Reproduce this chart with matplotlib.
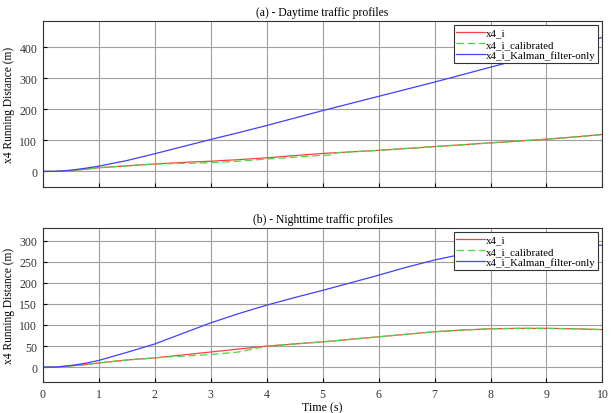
import matplotlib.pyplot as plt

plt.rcParams['font.family'] = ['Liberation Serif', 'DejaVu Serif']

t = [0, 0.25, 0.5, 0.75, 1, 1.5, 2, 2.5, 3, 3.5, 4, 4.5, 5, 5.5, 6, 6.5, 7, 7.5, 8, 8.5, 9, 9.5, 10]

# (a) daytime
day_x4 = [0, 0.5, 3, 7, 12, 18, 24, 29, 33, 38, 44, 51, 58, 63, 68, 74, 80, 86, 92, 98, 104, 111, 119]
day_cal_t = [0, 0.25, 0.5, 0.75, 1, 1.5, 2, 2.2, 2.5, 3, 3.5, 4, 4.5, 5, 5.15, 5.25, 5.5, 6, 6.5, 7, 7.5, 8, 8.5, 9, 9.5, 10]
day_cal = [0, 0.5, 3, 7, 12, 18, 24, 25, 26, 28, 33, 40, 46, 52, 53, 60, 63, 68, 74, 80, 86, 92, 98, 104, 111, 119]
day_kal = [0, 0.5, 4, 10, 17, 35, 57, 80, 103, 125, 148, 172, 196, 219, 242, 265, 288, 312, 336, 360, 384, 408, 432]

# (b) nighttime
night_x4 = [0, 0.5, 3, 6, 10, 17, 22, 29, 36, 43, 50, 55, 60, 66, 72, 78, 84, 88, 91, 92, 92, 91, 89]
night_cal_t = [0, 0.25, 0.5, 0.75, 1, 1.5, 2, 2.2, 2.5, 3, 3.5, 4, 4.5, 5, 5.5, 6, 6.5, 7, 7.5, 8, 8.5, 9, 9.5, 10]
night_cal = [0, 0.5, 3, 6, 10, 17, 22, 24, 26, 30, 36, 50, 55, 60, 66, 72, 78, 84, 88, 91, 92, 92, 91, 89]
night_kal = [0, 0.5, 4, 9, 16, 35, 55, 80, 105, 127, 147, 165, 182, 200, 218, 237, 254, 268, 278, 284, 287, 288, 289]

fig = plt.figure(figsize=(6.11, 4.14), dpi=100)
ax1 = fig.add_axes([0.070, 0.546, 0.916, 0.401])
ax2 = fig.add_axes([0.070, 0.075, 0.916, 0.372])

panels = [
    (ax1, '(a) - Daytime traffic profiles', day_x4, day_cal_t, day_cal, day_kal, (-50, 485), [0, 100, 200, 300, 400]),
    (ax2, '(b) - Nighttime traffic profiles', night_x4, night_cal_t, night_cal, night_kal, (-35, 330), [0, 50, 100, 150, 200, 250, 300]),
]

for ax, title, x4, ct, cal, kal, ylim, yt in panels:
    ax.plot(t, x4, color='#ff4040', lw=0.9, label='x4_i')
    ax.plot(ct, cal, color='#40dd40', lw=0.9, ls=(0, (6, 3)), label='x4_i_calibrated')
    ax.plot(t, kal, color='#4040ff', lw=0.9, label='x4_i_Kalman_filter-only')
    ax.set_xlim(0, 10)
    ax.set_ylim(*ylim)
    ax.set_yticks(yt)
    ax.set_xticks(range(11))
    ax.grid(True, color='#a0a0a0', lw=0.8)
    ax.set_title(title, fontsize=8.4, pad=4)
    ax.set_ylabel('x4 Running Distance (m)', fontsize=8.3, labelpad=3)
    ax.tick_params(labelsize=8.5, direction='in', length=3, pad=4, labelcolor='#333333')
    for s in ax.spines.values():
        s.set_linewidth(0.8)
        s.set_color('#333333')
    leg = ax.legend(loc='upper right', fontsize=7.8, fancybox=False, framealpha=1,
                    edgecolor='#333333', borderpad=0.25, labelspacing=0.15,
                    handlelength=2.6, handletextpad=0.1, borderaxespad=0.4)
    leg.get_frame().set_linewidth(0.8)

ax1.tick_params(labelbottom=False)
ax2.set_xlabel('Time (s)', fontsize=8.6, labelpad=1)

fig.savefig('out.png', dpi=100)
